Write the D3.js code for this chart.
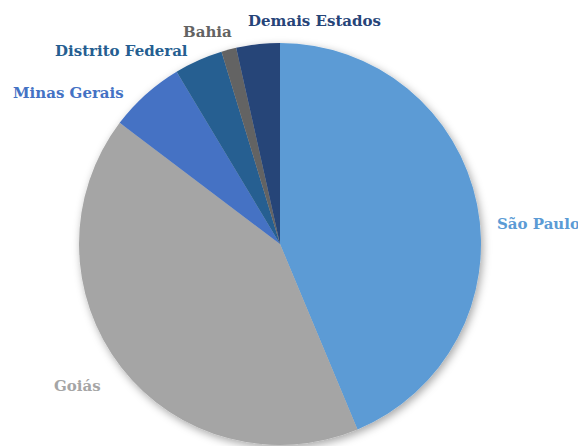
<!DOCTYPE html>
<html>
<head>
<meta charset="utf-8">
<script src="https://cdn.jsdelivr.net/npm/d3@7"></script>
<style>
  body { margin: 0; background: #fff; }
</style>
</head>
<body>
<div id="chart"></div>
<script>
// shares (percent)
var states = ["São Paulo", "Goiás", "Minas Gerais", "Distrito Federal", "Bahia", "Demais Estados"];
var shares = [43.7, 41.6, 6.1, 3.9, 1.2, 3.5];
var colors = ["#5B9BD5", "#A5A5A5", "#4472C4", "#255E91", "#636363", "#264478"];
// label anchor (x, y baseline) per state
var labelPos = [[497, 229], [54, 391], [13, 98], [55, 56], [183, 37], [248, 26]];

var width = 578, height = 446;
var cx = 280, cy = 244, radius = 201;

var svg = d3.select("#chart").append("svg")
  .attr("width", width)
  .attr("height", height);

var defs = svg.append("defs");
var f = defs.append("filter").attr("id", "shadow")
  .attr("x", "-20%").attr("y", "-20%").attr("width", "140%").attr("height", "140%");
f.append("feDropShadow")
  .attr("dx", 2).attr("dy", 3).attr("stdDeviation", 4)
  .attr("flood-color", "#000").attr("flood-opacity", 0.35);

var data = states.map(function(s, i) { return { name: s, value: shares[i], color: colors[i] }; });

var pie = d3.pie().sort(null).value(function(d) { return d.value; });
var arc = d3.arc().innerRadius(0).outerRadius(radius);

var g = svg.append("g")
  .attr("transform", "translate(" + cx + "," + cy + ")")
  .attr("filter", "url(#shadow)");

g.selectAll("path").data(pie(data))
  .enter().append("path")
  .attr("d", arc)
  .attr("fill", function(d) { return d.data.color; });

svg.selectAll("text.lbl").data(data)
  .enter().append("text")
  .attr("class", "lbl")
  .attr("x", function(d, i) { return labelPos[i][0]; })
  .attr("y", function(d, i) { return labelPos[i][1]; })
  .attr("font-family", "'DejaVu Serif', 'Liberation Serif', serif")
  .attr("font-weight", "bold")
  .attr("font-size", 15)
  .attr("fill", function(d) { return d.color; })
  .text(function(d) { return d.name; });
</script>
</body>
</html>
